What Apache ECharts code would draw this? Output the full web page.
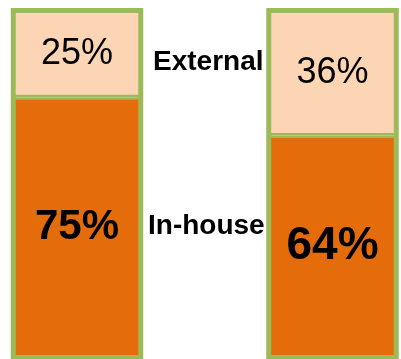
<!DOCTYPE html>
<html>
<head>
<meta charset="utf-8">
<script src="https://cdn.jsdelivr.net/npm/echarts@6/dist/echarts.min.js"></script>
<style>
  html, body { margin: 0; padding: 0; background: #fff; }
  #chart { width: 401px; height: 359px; }
</style>
</head>
<body>
<div id="chart"></div>
<script>
const categories = ['Column A', 'Column B']
const seriesNames = ['In-house', 'External']
const inHouse = [75, 64]
const external = [25, 36]

const BORDER = '#9bbb59'
const PEACH = '#fcd5b5'
const ORANGE = '#e46c0a'
const FONT = '"Liberation Sans", Arial, sans-serif'

// label sizes per column
const inHouseFont = [42, 46]
const externalFont = [36, 36]

function toItems(values, sizes, weight) {
  return values.map((v, i) => ({
    value: v,
    label: { fontSize: sizes[i], fontWeight: weight }
  }))
}

const chart = echarts.init(document.getElementById('chart'), null, { renderer: 'canvas' })

// bar borders are drawn inside the rect, so use half width on each segment
// and let the background frame add the outer half
const barStyle = (color) => ({
  color: color,
  borderColor: BORDER,
  borderWidth: 2.5
})

const labelBase = {
  show: true,
  position: 'inside',
  color: '#000',
  fontFamily: FONT,
  formatter: (p) => p.value + '%'
}

chart.setOption({
  animation: false,
  // grid wider than the canvas so the two bands sit where the columns are
  grid: {
    left: -50.75,
    right: -59.25,
    top: 10.5,
    bottom: 1.5,
    containLabel: false,
    outerBoundsMode: 'none'
  },
  xAxis: {
    type: 'category',
    data: categories,
    show: false
  },
  yAxis: {
    type: 'value',
    min: 0,
    max: 100,
    show: false
  },
  series: [
    {
      name: seriesNames[0],
      type: 'bar',
      stack: 'share',
      barWidth: 127.5,
      showBackground: true,
      backgroundStyle: {
        color: 'rgba(0,0,0,0)',
        borderColor: BORDER,
        borderWidth: 5
      },
      itemStyle: barStyle(ORANGE),
      label: labelBase,
      data: toItems(inHouse, inHouseFont, 'bold')
    },
    {
      name: seriesNames[1],
      type: 'bar',
      stack: 'share',
      barWidth: 127.5,
      itemStyle: barStyle(PEACH),
      label: labelBase,
      data: toItems(external, externalFont, 'normal')
    }
  ],
  graphic: [
    {
      type: 'text',
      left: 153,
      top: 48,
      style: { text: seriesNames[1], font: 'bold 28px ' + FONT, fill: '#000' }
    },
    {
      type: 'text',
      left: 148,
      top: 212,
      style: { text: seriesNames[0], font: 'bold 28px ' + FONT, fill: '#000' }
    }
  ]
})
</script>
</body>
</html>
